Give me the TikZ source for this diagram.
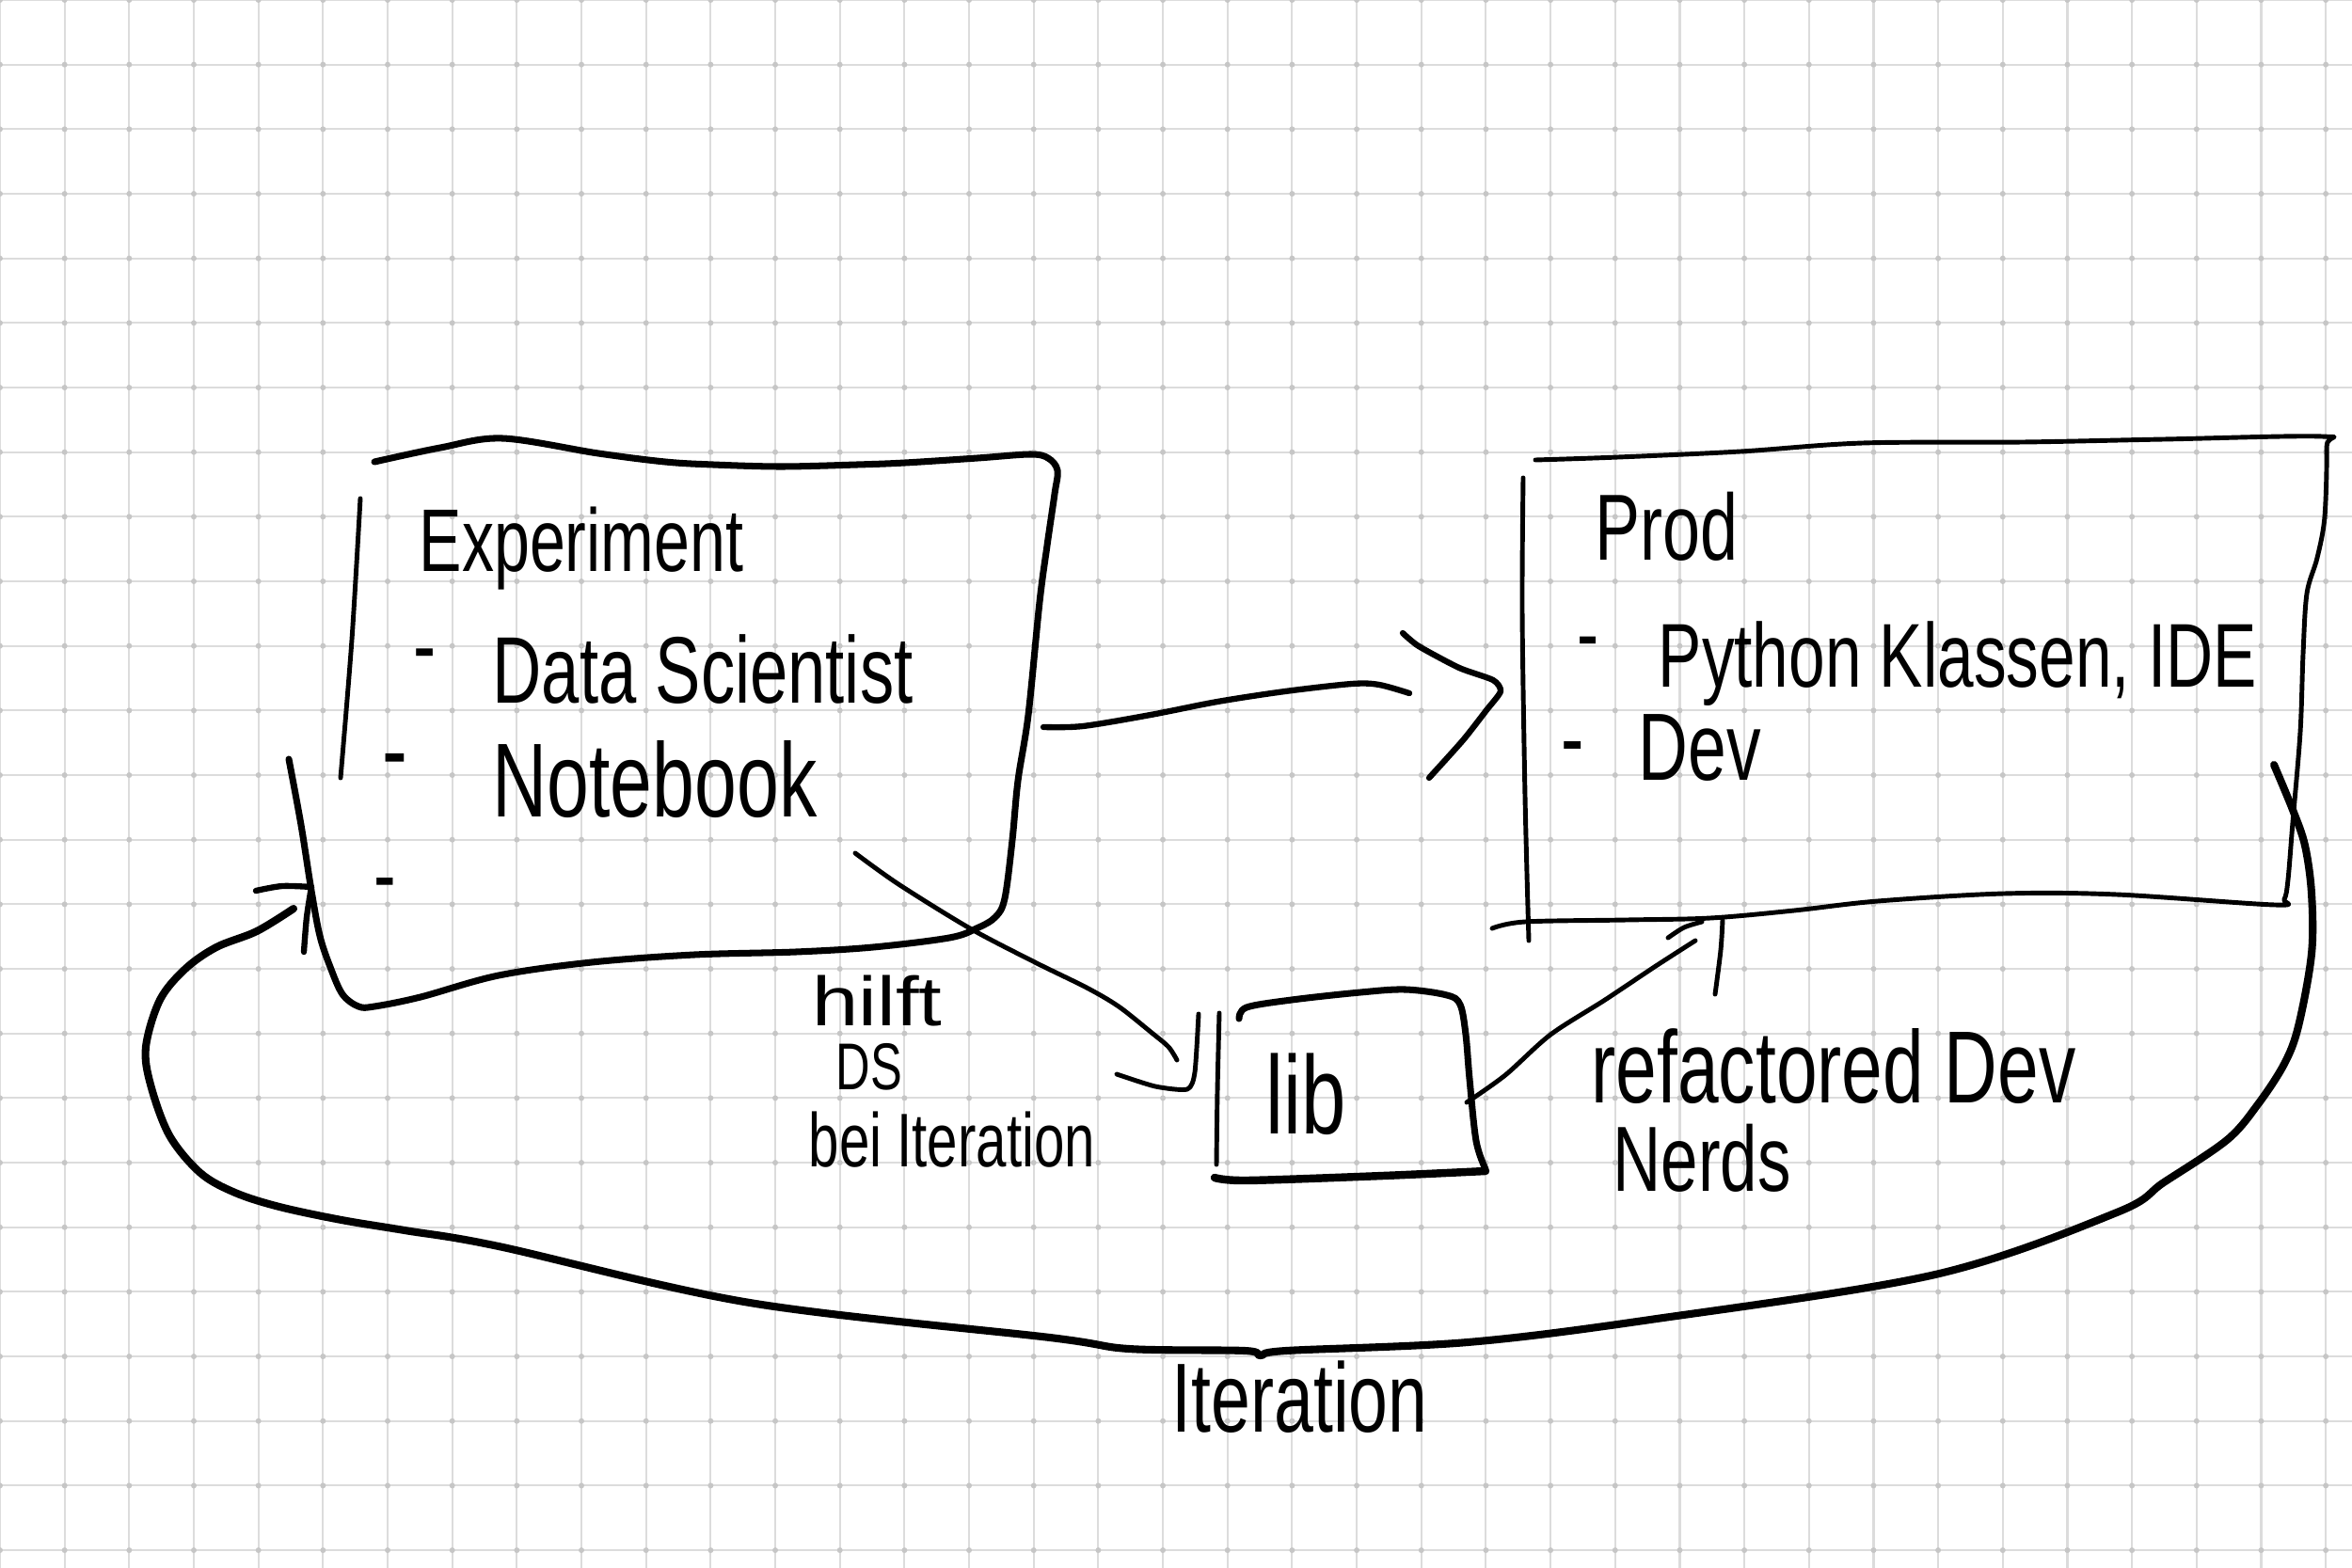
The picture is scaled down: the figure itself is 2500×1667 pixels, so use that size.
\documentclass[tikz,border=0pt]{standalone}
\usepackage{fontspec}
\newfontfamily\handfont[FakeStretch=0.72]{Liberation Sans}
\newfontfamily\handwidefont[FakeStretch=1.2]{Liberation Sans}
\newcommand\handsz[1]{\fontsize{#1}{#1}\selectfont}
\definecolor{gridline}{HTML}{DCDCDC}
\definecolor{griddot}{HTML}{C6C6C6}
\tikzset{
  hand/.style={inner sep=0pt, anchor=base west, text=black},
  boxthick/.style={line width=2.0pt, line cap=round, line join=round},
  boxthin/.style={line width=1.4pt, line cap=round, line join=round},
  conn/.style={line width=1.8pt, line cap=round, line join=round},
  loopline/.style={line width=2.3pt, line cap=round, line join=round},
}
\begin{document}
\begin{tikzpicture}[x=0.01cm, y=-0.01cm]
% paper with square grid
\fill[white] (0,0) rectangle (2500,1667);
\useasboundingbox (0,0) rectangle (2500,1667);
\foreach \i in {0,...,36} \draw[gridline, line width=0.6pt] ({\i*68.67},0) -- ({\i*68.67},1667);
\foreach \j in {0,...,24} \draw[gridline, line width=0.6pt] (0,{\j*68.67}) -- (2500,{\j*68.67});
\foreach \i in {0,...,36} \foreach \j in {0,...,24} \fill[griddot] ({\i*68.67},{\j*68.67}) circle[radius=0.85pt];

% ---------- Experiment box ----------
\draw[boxthin] plot[smooth] coordinates {(383,530) (374,680) (362,827)};
\draw[boxthick] plot[smooth, tension=0.55] coordinates {(307,807) (320,877) (331,947) (340,995) (351,1028) (364,1057) (381,1070) (398,1070) (447,1060) (530,1037) (629,1023) (738,1015) (846,1012) (928,1007) (1009,997) (1038,987) (1058,975) (1068,955) (1076,893) (1082,830) (1093,760) (1105,640) (1113,580) (1121,525) (1124,500) (1114,487) (1095,483) (1039,487) (962,492) (911,494) (830,496) (758,494) (707,491) (636,482) (534,466) (468,476) (398,491)};

\node[hand, font={\handfont\handsz{26.9pt}}] (exptitle) at (445,607) {Experiment};
\node[hand, font={\handfont\handsz{28.6pt}}] (expdash1) at (439,720) {-};
\node[hand, font={\handfont\handsz{28.6pt}}] (expds) at (523,747) {Data Scientist};
\node[hand, font={\handfont\handsz{31.8pt}}] (expdash2) at (406,835) {-};
\node[hand, font={\handfont\handsz{31.8pt}}] (expnb) at (523,868) {Notebook};
\node[hand, font={\handfont\handsz{28pt}}] (expdash3) at (397,963) {-};

% ---------- Prod box ----------
\draw[boxthin] plot[smooth] coordinates {(1619,508) (1618,650) (1621,847) (1625,1000)};
\draw[boxthin] plot[smooth, tension=0.55] coordinates {(1586,987) (1621,980) (1729,978) (1818,976) (1907,968) (1996,958) (2130,950) (2250,951) (2418,962) (2428,956) (2432,935) (2437,874) (2445,778) (2448,695) (2452,631) (2463,593) (2471,549) (2473,475) (2468,464) (2300,467) (2150,470) (1980,471) (1850,480) (1720,486) (1632,489)};

\node[hand, font={\handfont\handsz{28.4pt}}] (prodtitle) at (1695,595) {Prod};
\node[hand, font={\handfont\handsz{27.4pt}}] (proddash1) at (1676,706) {-};
\node[hand, font={\handfont\handsz{27.4pt}}] (prodpy) at (1762,730) {Python Klassen, IDE};
\node[hand, font={\handfont\handsz{28.9pt}}] (proddash2) at (1659,819) {-};
\node[hand, font={\handfont\handsz{28.9pt}}] (proddev) at (1741,829) {Dev};

% ---------- lib box ----------
\draw[boxthin] plot[smooth] coordinates {(1296,1077) (1294,1160) (1293,1238)};
\draw[boxthick] plot[smooth, tension=0.55] coordinates {(1317,1083) (1325,1071) (1373,1063) (1446,1055) (1494,1052) (1538,1058) (1552,1068) (1558,1100) (1562,1147) (1569,1213) (1579,1243)};
\draw[boxthick, line width=2.4pt] plot[smooth] coordinates {(1579,1245) (1470,1250) (1325,1255) (1291,1252)};
\node[hand, font={\handfont\handsz{33.6pt}}] (lib) at (1345,1205) {lib};

% ---------- labels ----------
\node[hand, font={\handwidefont\handsz{21pt}}] (hilft) at (863,1090) {hilft};
\node[hand, font={\handfont\handsz{20pt}}] (ds) at (888,1158) {DS};
\node[hand, font={\handfont\handsz{23pt}}] (bei) at (859,1240) {bei Iteration};
\node[hand, font={\handfont\handsz{31pt}}] (refac) at (1691,1172) {refactored Dev};
\node[hand, font={\handfont\handsz{28pt}}] (nerds) at (1714,1266) {Nerds};
\node[hand, font={\handfont\handsz{29.7pt}}] (iter) at (1245,1522) {Iteration};

% ---------- connector end points ----------
\coordinate (e2pA) at (1109,773);
\coordinate (e2pB) at (1595,735);
\coordinate (n2lA) at (909,907);
\coordinate (n2lB) at (1262,1158);
\coordinate (l2pA) at (1559,1172);
\coordinate (l2pB) at (1815,978);
\coordinate (loopA) at (2417,813);
\coordinate (loopB) at (331,943);

% Experiment -> Prod
\draw[conn] plot[smooth] coordinates {(e2pA) (1151,772) (1223,760) (1294,746) (1366,735) (1437,727) (1466,728) (1498,737)};
\draw[conn] plot[smooth, tension=0.4] coordinates {(1491,673) (1508,687) (1551,710) (1587,723) (e2pB) (1580,755) (1555,787) (1519,827)};

% Notebook -> lib
\draw[boxthin] plot[smooth] coordinates {(n2lA) (955,940) (1031,987) (1100,1023) (1155,1050) (1189,1070) (1223,1097) (1242,1113) (1251,1127)};
\draw[boxthin] plot[smooth, tension=0.4] coordinates {(1187,1142) (1228,1155) (n2lB) (1270,1140) (1274,1078)};

% lib -> Prod
\draw[boxthin] plot[smooth] coordinates {(l2pA) (1600,1143) (1648,1100) (1706,1063) (1760,1027) (1802,1000)};
\draw[boxthin] plot[smooth] coordinates {(1773,997) (1790,986) (1809,980)};
\draw[boxthin] plot[smooth] coordinates {(1831,978) (1829,1010) (1823,1057)};

% Iteration loop: Prod back to Experiment
\draw[loopline] plot[smooth, tension=0.55] coordinates {(loopA) (2437,861) (2450,899) (2457,950) (2457,1014) (2443,1091) (2428,1131) (2400,1174) (2367,1212) (2300,1257) (2250,1289) (2057,1355) (1754,1403) (1560,1427) (1367,1436) (1340,1441) (1323,1436) (1200,1434) (1116,1422) (797,1385) (530,1325) (430,1308) (363,1297) (297,1283) (250,1268) (213,1247) (180,1207) (160,1153) (155,1113) (170,1063) (197,1030) (230,1007) (273,990) (312,966)};
\draw[conn] plot[smooth] coordinates {(272,947) (300,942) (loopB)};
\draw[conn] plot[smooth] coordinates {(323,1012) (326,975) (loopB)};
\end{tikzpicture}
\end{document}
